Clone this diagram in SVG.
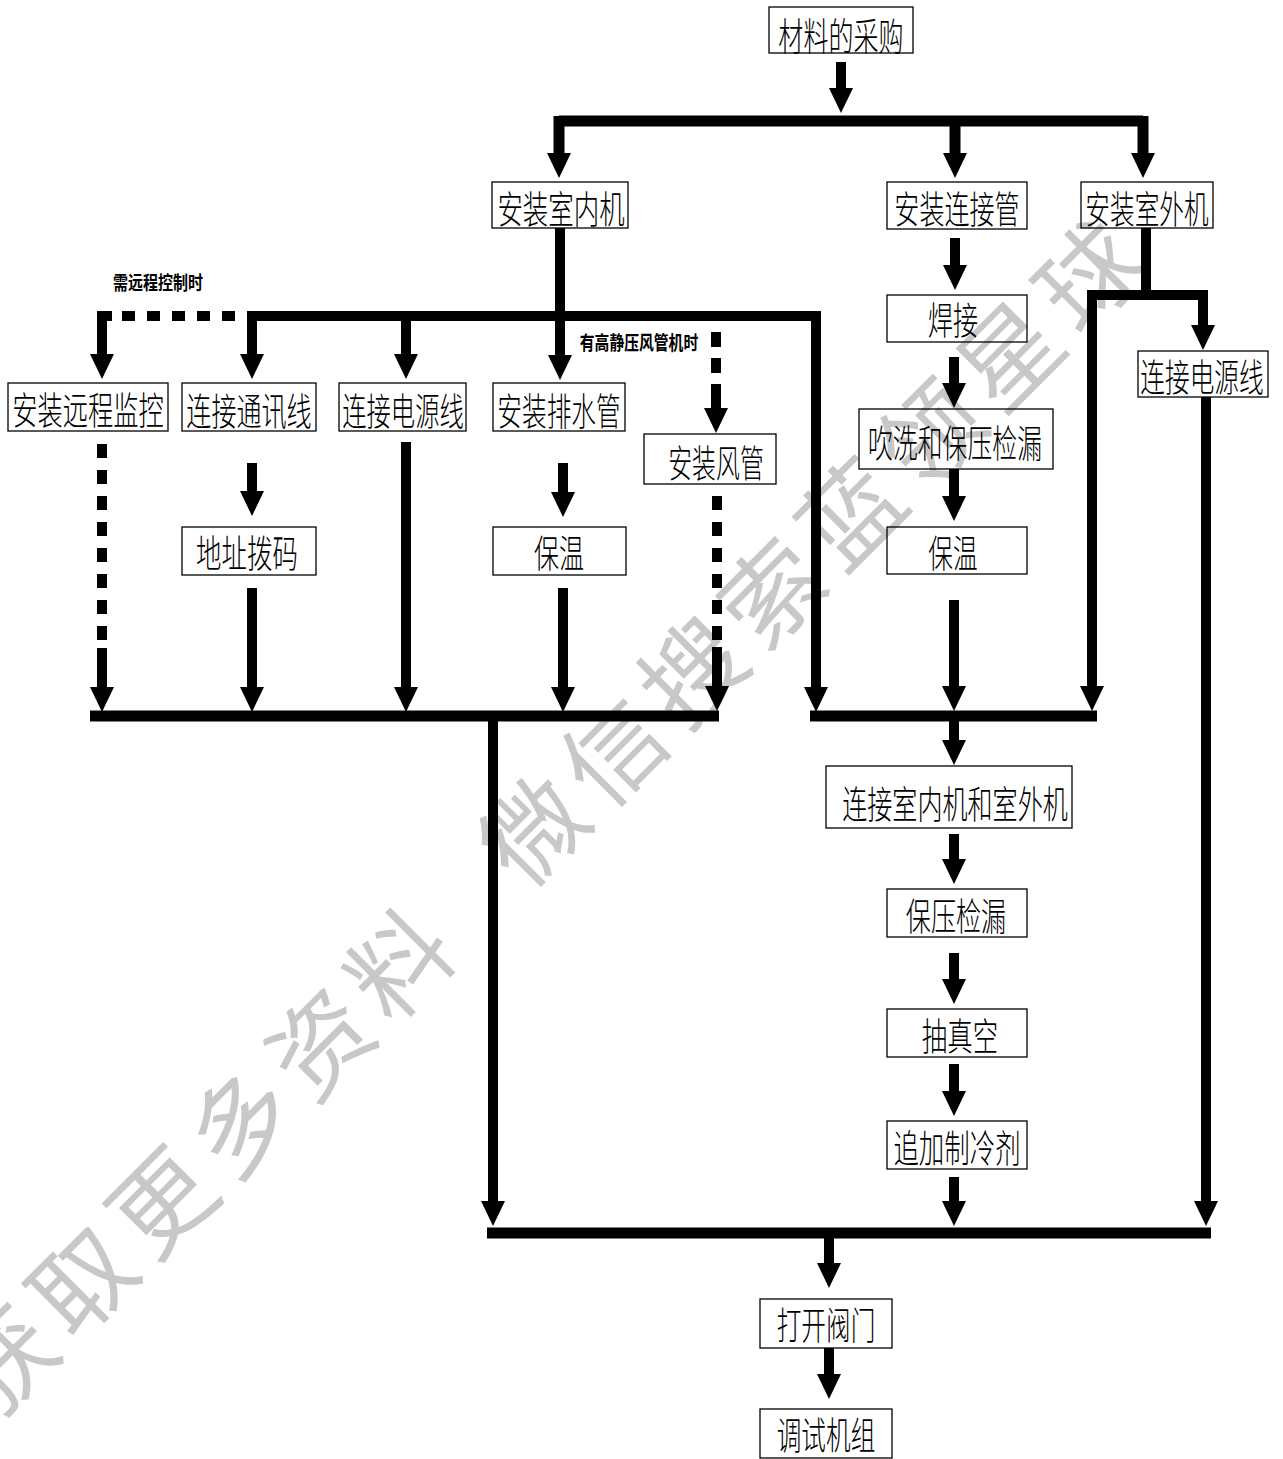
<svg xmlns="http://www.w3.org/2000/svg" width="1283" height="1459" viewBox="0 0 1283 1459">
<style>
.bg{fill:#fff}
.wm{fill:#c8c8c8;font-family:"Noto Sans CJK SC","Noto Sans",sans-serif;font-size:100px;font-weight:400}
.box rect{fill:none;stroke:#000;stroke-width:1.3}
.box text{font-family:"Noto Sans CJK SC","Noto Sans",sans-serif;font-size:38px;font-weight:300;fill:#000;text-anchor:middle;dominant-baseline:central}
.lbl{font-family:"Noto Sans CJK SC","Noto Sans",sans-serif;font-size:19px;font-weight:700;fill:#000;text-anchor:middle;dominant-baseline:central}
.c{fill:none;stroke:#000;stroke-width:10;stroke-linejoin:miter;stroke-linecap:butt}
.b{fill:none;stroke:#000;stroke-width:11;stroke-linejoin:miter;stroke-linecap:butt}
.a{marker-end:url(#ah)}
.d1{stroke-dasharray:13 12}
.d2{stroke-dasharray:14 12}
.d3{stroke-dasharray:15 11}
</style>
<defs>
<marker id="ah" markerUnits="userSpaceOnUse" markerWidth="25" markerHeight="24" viewBox="0 0 25 24" refX="1" refY="12" orient="auto"><path d="M0,0 L25,12 L0,24 z" fill="#000"/></marker>
</defs>
<rect class="bg" x="0" y="0" width="1283" height="1459"/>
<g id="watermark" transform="translate(395,960) rotate(-45)">
<text class="wm" x="-610" y="0" dominant-baseline="central" letter-spacing="12">获取更多资料 <tspan x="140">微信搜索蓝领星球</tspan></text>
</g>
<g id="connectors">
<path class="c a" d="M841,62 V89"/>
<path class="b" d="M559,121 H1143"/>
<path class="b a" d="M559,116 V154"/>
<path class="b a" d="M955,121 V154"/>
<path class="b a" d="M1143,116 V154"/>
<path class="c a" d="M560,228 V356"/>
<path class="c a" d="M816,316 V688"/>
<path class="c a" d="M821,316 H252 V355"/>
<path class="c a" d="M406,316 V355"/>
<path class="c a" d="M112,316 H102 V355"/>
<path class="c d1" d="M122,316 H240"/>
<path class="c d3" d="M716,332 V375"/>
<path class="c a" d="M716,384 V409"/>
<path class="c d2" d="M102,444 V640"/>
<path class="c a" d="M102,648 V688"/>
<path class="c a" d="M252,463 V492"/>
<path class="c a" d="M252,588 V688"/>
<path class="c a" d="M406,442 V688"/>
<path class="c a" d="M563,463 V493"/>
<path class="c a" d="M563,588 V688"/>
<path class="c d2" d="M717,496 V640"/>
<path class="c a" d="M717,647 V687"/>
<path class="b" d="M90,716 H719"/>
<path class="c a" d="M493,716 V1202"/>
<path class="c a" d="M955,238 V266"/>
<path class="c a" d="M954,357 V384"/>
<path class="c a" d="M954,469 V497"/>
<path class="c a" d="M954,600 V687"/>
<path class="b" d="M810,716 H1097"/>
<path class="c a" d="M954,716 V741"/>
<path class="c a" d="M954,834 V860"/>
<path class="c a" d="M954,953 V980"/>
<path class="c a" d="M954,1064 V1092"/>
<path class="c a" d="M954,1177 V1202"/>
<path class="c" d="M1146,228 V295"/>
<path class="c a" d="M1092,295 V687"/>
<path class="c a" d="M1087,295 H1203 V326"/>
<path class="c a" d="M1206,397 V1202"/>
<path class="b" d="M487,1233 H1211"/>
<path class="c a" d="M829,1233 V1264"/>
<path class="c a" d="M829,1348 V1375"/>
</g>
<text class="lbl" transform="translate(158,282) scale(0.79,1)">需远程控制时</text>
<text class="lbl" transform="translate(639,342) scale(0.78,1)">有高静压风管机时</text>
<g id="n1" class="box"><rect x="769" y="7" width="144" height="46"/><text transform="translate(841,33) scale(0.66,1)">材料的采购</text></g>
<g id="n2" class="box"><rect x="492" y="182" width="136" height="46"/><text transform="translate(561,206) scale(0.67,1)">安装室内机</text></g>
<g id="n3" class="box"><rect x="887" y="182" width="140" height="47"/><text transform="translate(957,206) scale(0.66,1)">安装连接管</text></g>
<g id="n4" class="box"><rect x="1081" y="182" width="132" height="46"/><text transform="translate(1147,206) scale(0.65,1)">安装室外机</text></g>
<g id="n5" class="box"><rect x="887" y="295" width="140" height="47"/><text transform="translate(953,317) scale(0.66,1)">焊接</text></g>
<g id="n6" class="box"><rect x="859" y="409" width="194" height="60"/><text transform="translate(955,440) scale(0.655,1)">吹洗和保压检漏</text></g>
<g id="n7" class="box"><rect x="887" y="527" width="140" height="47"/><text transform="translate(953,550) scale(0.65,1)">保温</text></g>
<g id="n8" class="box"><rect x="1138" y="351" width="130" height="46"/><text transform="translate(1202,374) scale(0.65,1)">连接电源线</text></g>
<g id="n9" class="box"><rect x="8" y="383" width="160" height="48"/><text transform="translate(88,408) scale(0.665,1)">安装远程监控</text></g>
<g id="n10" class="box"><rect x="182" y="383" width="134" height="48"/><text transform="translate(249,408) scale(0.66,1)">连接通讯线</text></g>
<g id="n11" class="box"><rect x="339" y="383" width="127" height="48"/><text transform="translate(403,408) scale(0.64,1)">连接电源线</text></g>
<g id="n12" class="box"><rect x="493" y="383" width="132" height="48"/><text transform="translate(559,408) scale(0.65,1)">安装排水管</text></g>
<g id="n13" class="box"><rect x="644" y="434" width="132" height="50"/><text transform="translate(716,460) scale(0.63,1)">安装风管</text></g>
<g id="n14" class="box"><rect x="182" y="527" width="134" height="48"/><text transform="translate(247,550) scale(0.67,1)">地址拨码</text></g>
<g id="n15" class="box"><rect x="493" y="527" width="133" height="48"/><text transform="translate(559,550) scale(0.66,1)">保温</text></g>
<g id="n16" class="box"><rect x="826" y="766" width="246" height="62"/><text transform="translate(955,801) scale(0.66,1)">连接室内机和室外机</text></g>
<g id="n17" class="box"><rect x="887" y="889" width="140" height="48"/><text transform="translate(956,913) scale(0.66,1)">保压检漏</text></g>
<g id="n18" class="box"><rect x="887" y="1009" width="140" height="48"/><text transform="translate(960,1033) scale(0.67,1)">抽真空</text></g>
<g id="n19" class="box"><rect x="887" y="1121" width="140" height="48"/><text transform="translate(957,1145) scale(0.67,1)">追加制冷剂</text></g>
<g id="n20" class="box"><rect x="760" y="1299" width="132" height="49"/><text transform="translate(826,1322) scale(0.65,1)">打开阀门</text></g>
<g id="n21" class="box"><rect x="760" y="1409" width="132" height="49"/><text transform="translate(826,1432) scale(0.65,1)">调试机组</text></g>
</svg>
